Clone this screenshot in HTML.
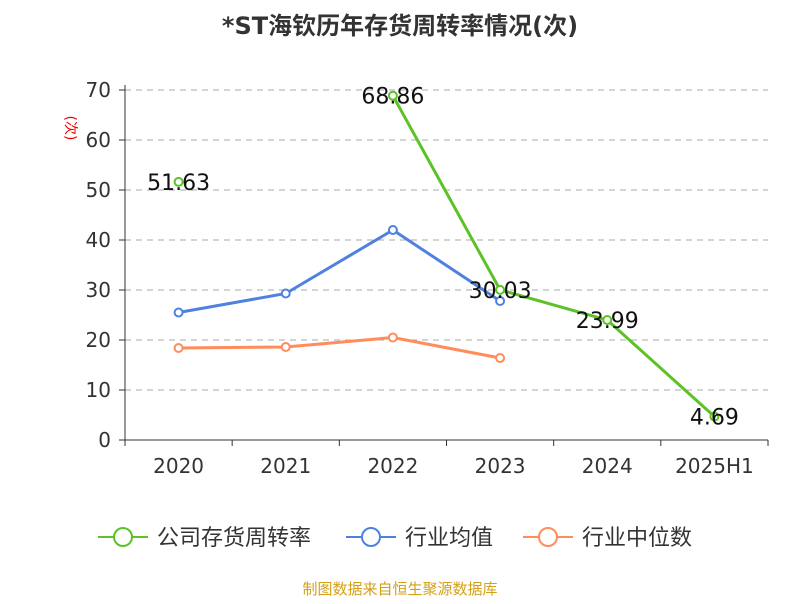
<!DOCTYPE html>
<html><head><meta charset="utf-8"><style>
body{margin:0;background:#fff;font-family:"DejaVu Sans","Noto Sans CJK SC",sans-serif}
svg text{font-family:"DejaVu Sans","Noto Sans CJK SC",sans-serif}
</style></head><body>
<svg id="c" width="800" height="600" xmlns="http://www.w3.org/2000/svg">
<text x="400" y="34" text-anchor="middle" font-size="24" font-weight="bold" fill="#333">*ST海钦历年存货周转率情况(次)</text>
<text x="66" y="128" text-anchor="middle" font-size="14" fill="#e00" transform="rotate(90 66 128)">(次)</text>
<g id="grid"></g><g id="axes"></g><g id="series"></g>
<g>
<g><line x1="98" y1="537" x2="148" y2="537" stroke="#5dc226" stroke-width="2"/><circle cx="123" cy="537" r="9" fill="#fff" stroke="#5dc226" stroke-width="2"/><text x="157" y="545" font-size="22" fill="#333">公司存货周转率</text></g>
<g><line x1="346" y1="537" x2="396" y2="537" stroke="#4f81e0" stroke-width="2"/><circle cx="371" cy="537" r="9" fill="#fff" stroke="#4f81e0" stroke-width="2"/><text x="405" y="545" font-size="22" fill="#333">行业均值</text></g>
<g><line x1="523" y1="537" x2="573" y2="537" stroke="#ff8c5a" stroke-width="2"/><circle cx="548" cy="537" r="9" fill="#fff" stroke="#ff8c5a" stroke-width="2"/><text x="582" y="545" font-size="22" fill="#333">行业中位数</text></g>
</g>
<text x="400" y="594" text-anchor="middle" font-size="15" fill="#d4a017">制图数据来自恒生聚源数据库</text>
</svg>
<script>
const categories=["2020","2021","2022","2023","2024","2025H1"];
const companyValues=[51.63,null,68.86,30.03,23.99,4.69];
const avgValues=[25.5,29.3,42.0,27.8,null,null];
const medianValues=[18.4,18.6,20.5,16.4,null,null];
const yTicks=[0,10,20,30,40,50,60,70];
const NS="http://www.w3.org/2000/svg";
const X0=125,X1=768,Y0=440,Y1=90,YMAX=70;
const bw=(X1-X0)/categories.length;
const xs=i=>X0+bw*(i+0.5);
const ys=v=>Y0-(v/YMAX)*(Y0-Y1);
function mk(p,t,a){const e=document.createElementNS(NS,t);for(const k in a)e.setAttribute(k,a[k]);p.appendChild(e);return e;}
const grid=document.getElementById('grid'),axes=document.getElementById('axes'),ser=document.getElementById('series');
yTicks.forEach(t=>{
 if(t>0){const g=mk(grid,'line',{x1:X0,x2:X1,y1:ys(t),y2:ys(t),stroke:'#aaa','stroke-dasharray':'6,5'});
 
 }
 mk(axes,'line',{x1:X0-6,x2:X0,y1:ys(t),y2:ys(t),stroke:'#333'});
 const l=mk(axes,'text',{x:X0-14,y:ys(t)+7,'text-anchor':'end','font-size':20,fill:'#333'});l.textContent=t;
 
 
});
mk(axes,'line',{x1:X0,x2:X0,y1:Y1-5,y2:Y0,stroke:'#333'});
mk(axes,'line',{x1:X0,x2:X1,y1:Y0,y2:Y0,stroke:'#333'});
for(let i=0;i<=categories.length;i++)mk(axes,'line',{x1:X0+bw*i,x2:X0+bw*i,y1:Y0,y2:Y0+6,stroke:'#333'});
categories.forEach((c,i)=>{const l=mk(axes,'text',{x:xs(i),y:Y0+33,'text-anchor':'middle','font-size':20,fill:'#333'});l.textContent=c;
 
 });
function draw(vals,color,name,labels){
 let segs=[],cur=[];
 vals.forEach((v,i)=>{if(v==null){if(cur.length)segs.push(cur);cur=[];}else cur.push([xs(i),ys(v)]);});
 if(cur.length)segs.push(cur);
 segs.forEach(s=>{if(s.length>1){const p=mk(ser,'polyline',{points:s.map(q=>q.join(',')).join(' '),fill:'none',stroke:color,'stroke-width':3});
 
 }});
 vals.forEach((v,i)=>{if(v==null)return;
  const c=mk(ser,'circle',{cx:xs(i),cy:ys(v),r:4,fill:'#fff',stroke:color,'stroke-width':2});
  
  
  if(labels){const t=mk(ser,'text',{x:xs(i),y:ys(v)+8,'text-anchor':'middle','font-size':22,fill:'#111'});t.textContent=v.toFixed(2);
  
  }
 });
}
draw(avgValues,'#4f81e0','industry-average',false);
draw(medianValues,'#ff8c5a','industry-median',false);
draw(companyValues,'#5dc226','company',true);
</script>
</body></html>
